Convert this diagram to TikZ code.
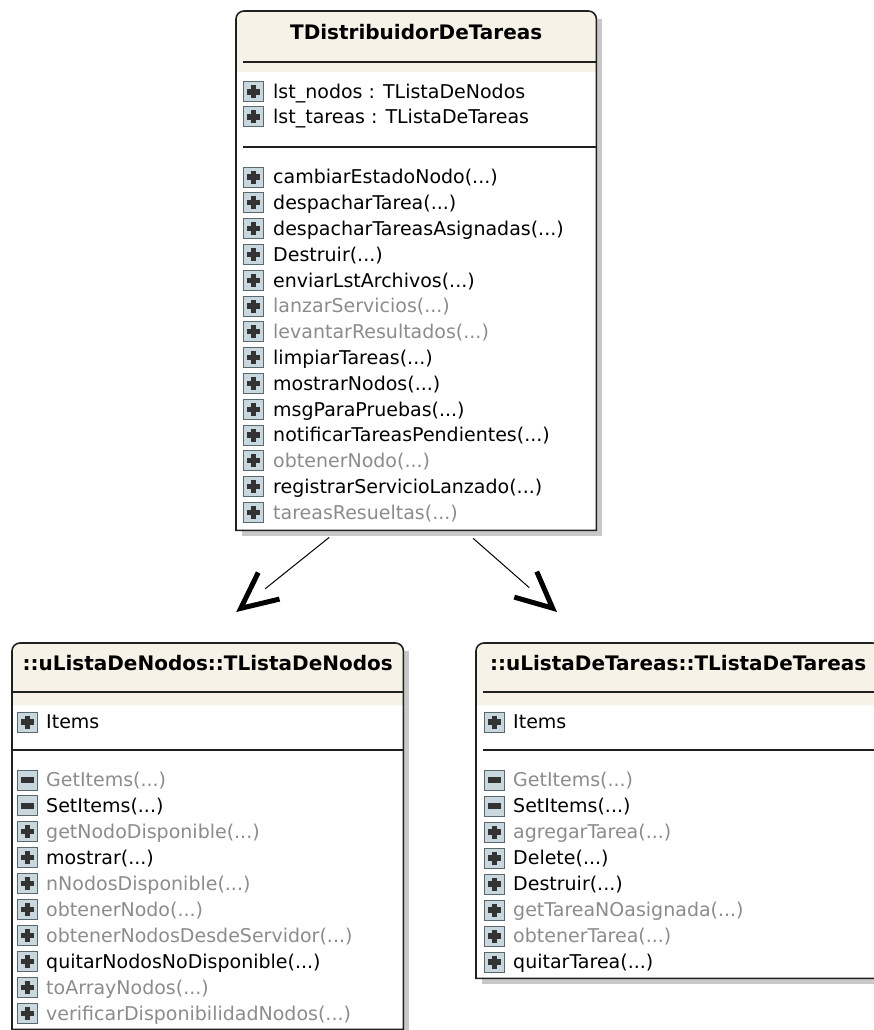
\documentclass[tikz,border=0pt]{standalone}
\usepackage{fontspec}
\setmainfont{DejaVu Sans}
\usetikzlibrary{arrows.meta}

\definecolor{headfill}{RGB}{246,242,232}
\definecolor{iconfill}{RGB}{200,216,222}
\definecolor{iconedge}{RGB}{90,104,110}
\definecolor{dimtext}{RGB}{140,140,140}
\definecolor{edge}{RGB}{32,32,32}
\definecolor{shadowgray}{RGB}{200,200,200}
\newcommand\callargs{(...)}

\begin{document}
\begin{tikzpicture}[
  x=1pt, y=-1pt,
  classbox/.style={rectangle, inner sep=0pt, anchor=north west},
  border/.style={draw=edge, line width=1.6pt},
  sepline/.style={draw=edge, line width=1.4pt},
  title/.style={font=\fontsize{20}{24}\selectfont\bfseries, inner sep=0pt,
    text height=14.5pt, text depth=0pt},
  member/.style={font=\fontsize{19}{22}\selectfont, anchor=west, inner sep=0pt,
    text height=13.8pt, text depth=0pt},
  icon/.style={draw=iconedge, fill=iconfill, line width=1pt, minimum size=20pt, inner sep=0pt},
  plus/.style={icon, path picture={
      \fill[black!80] ([shift={(-6.5pt,-2.6pt)}]path picture bounding box.center)
        rectangle ([shift={(6.5pt,2.6pt)}]path picture bounding box.center);
      \fill[black!80] ([shift={(-2.6pt,-6.5pt)}]path picture bounding box.center)
        rectangle ([shift={(2.6pt,6.5pt)}]path picture bounding box.center);}},
  minus/.style={icon, path picture={
      \fill[black!80] ([shift={(-6.5pt,-2.6pt)}]path picture bounding box.center)
        rectangle ([shift={(6.5pt,2.6pt)}]path picture bounding box.center);}},
  assoc/.style={draw=white, line width=0.5pt,
    -{Straight Barb[length=36pt, width=34pt, line width=5pt, color=black]},
    postaction={draw=black, line width=1pt, -, shorten >=37pt}}
]
\useasboundingbox (0,0) rectangle (874,1030);
\clip (0,0) rectangle (874,1030);

% class boxes
\node[classbox, minimum width=360pt, minimum height=519pt] (distrib) at (236,11) {};
\node[classbox, minimum width=391pt, minimum height=386pt] (nodos) at (12,643) {};
\node[classbox, minimum width=404pt, minimum height=335pt] (tareas) at (476,643) {};

\foreach \cls/\hsep/\hbot/\asep/\ins in {distrib/51/61/136/7, nodos/49/62/107/1, tareas/49/62/107/7} {
  \fill[shadowgray] ([shift={(6pt,-8pt)}]\cls.north west) rectangle ([shift={(6pt,-6pt)}]\cls.south east);
  \fill[white] (\cls.south west) -- ([yshift=-8pt]\cls.north west) arc (180:90:8pt)
    -- ([xshift=-8pt]\cls.north east) arc (90:0:8pt) -- (\cls.south east) -- cycle;
  \fill[headfill] ([yshift=-\hbot pt]\cls.north west) -- ([yshift=-8pt]\cls.north west) arc (180:90:8pt)
    -- ([xshift=-8pt]\cls.north east) arc (90:0:8pt) -- ([yshift=-\hbot pt]\cls.north east) -- cycle;
  \draw[border] (\cls.south west) -- ([yshift=-8pt]\cls.north west) arc (180:90:8pt)
    -- ([xshift=-8pt]\cls.north east) arc (90:0:8pt) -- (\cls.south east) -- cycle;
  \draw[sepline] ([shift={(\ins pt,-\hsep pt)}]\cls.north west) -- ([yshift=-\hsep pt]\cls.north east);
  \draw[sepline] ([shift={(\ins pt,-\asep pt)}]\cls.north west) -- ([yshift=-\asep pt]\cls.north east);
}

\node[title] (distribname) at ([yshift=-21pt]distrib.north) {TDistribuidorDeTareas};
\node[title] (nodosname) at ([yshift=-20pt]nodos.north) {::uListaDeNodos::TListaDeNodos};
\node[title] (tareasname) at ([yshift=-20pt]tareas.north) {::uListaDeTareas::TListaDeTareas};

% TDistribuidorDeTareas
\foreach \txt [count=\i from 0] in {lst\_nodos : TListaDeNodos, lst\_tareas : TListaDeTareas} {
  \node[plus] (da\i) at ([xshift=17.5pt, yshift=-81pt-25pt*\i]distrib.north west) {};
  \node[member] (dat\i) at ([xshift=37pt, yshift=-81pt-25pt*\i]distrib.north west) {\txt};
}
\foreach \txt/\tone [count=\i from 0] in {
  cambiarEstadoNodo\callargs/black, despacharTarea\callargs/black,
  despacharTareasAsignadas\callargs/black, Destruir\callargs/black,
  enviarLstArchivos\callargs/black, lanzarServicios\callargs/dimtext,
  levantarResultados\callargs/dimtext, limpiarTareas\callargs/black,
  mostrarNodos\callargs/black, msgParaPruebas\callargs/black,
  notificarTareasPendientes\callargs/black, obtenerNodo\callargs/dimtext,
  registrarServicioLanzado\callargs/black, tareasResueltas\callargs/dimtext} {
  \node[plus] (dm\i) at ([xshift=17.5pt, yshift=-166pt-25.8pt*\i]distrib.north west) {};
  \node[member, text=\tone] (dmt\i) at ([xshift=37pt, yshift=-166pt-25.8pt*\i]distrib.north west) {\txt};
}

% TListaDeNodos
\node[plus] (na0) at ([xshift=15.5pt, yshift=-79pt]nodos.north west) {};
\node[member] (nat0) at ([xshift=34pt, yshift=-79pt]nodos.north west) {Items};
\foreach \txt/\tone/\sign [count=\i from 0] in {
  GetItems\callargs/dimtext/minus, SetItems\callargs/black/minus,
  getNodoDisponible\callargs/dimtext/plus, mostrar\callargs/black/plus,
  nNodosDisponible\callargs/dimtext/plus, obtenerNodo\callargs/dimtext/plus,
  obtenerNodosDesdeServidor\callargs/dimtext/plus, quitarNodosNoDisponible\callargs/black/plus,
  toArrayNodos\callargs/dimtext/plus, verificarDisponibilidadNodos\callargs/dimtext/plus} {
  \node[\sign] (nm\i) at ([xshift=15.5pt, yshift=-137pt-25.9pt*\i]nodos.north west) {};
  \node[member, text=\tone] (nmt\i) at ([xshift=34pt, yshift=-137pt-25.9pt*\i]nodos.north west) {\txt};
}

% TListaDeTareas
\node[plus] (ta0) at ([xshift=18.5pt, yshift=-79pt]tareas.north west) {};
\node[member] (tat0) at ([xshift=37pt, yshift=-79pt]tareas.north west) {Items};
\foreach \txt/\tone/\sign [count=\i from 0] in {
  GetItems\callargs/dimtext/minus, SetItems\callargs/black/minus,
  agregarTarea\callargs/dimtext/plus, Delete\callargs/black/plus,
  Destruir\callargs/black/plus, getTareaNOasignada\callargs/dimtext/plus,
  obtenerTarea\callargs/dimtext/plus, quitarTarea\callargs/black/plus} {
  \node[\sign] (tm\i) at ([xshift=18.5pt, yshift=-137pt-26pt*\i]tareas.north west) {};
  \node[member, text=\tone] (tmt\i) at ([xshift=37pt, yshift=-137pt-26pt*\i]tareas.north west) {\txt};
}

% associations
\draw[assoc] ([shift={(-87pt,-7pt)}]distrib.south) -- ([shift={(28.5pt,31pt)}]nodos.north);
\draw[assoc] ([shift={(57pt,-8pt)}]distrib.south) -- ([shift={(81pt,31pt)}]tareas.north west);
\end{tikzpicture}
\end{document}
